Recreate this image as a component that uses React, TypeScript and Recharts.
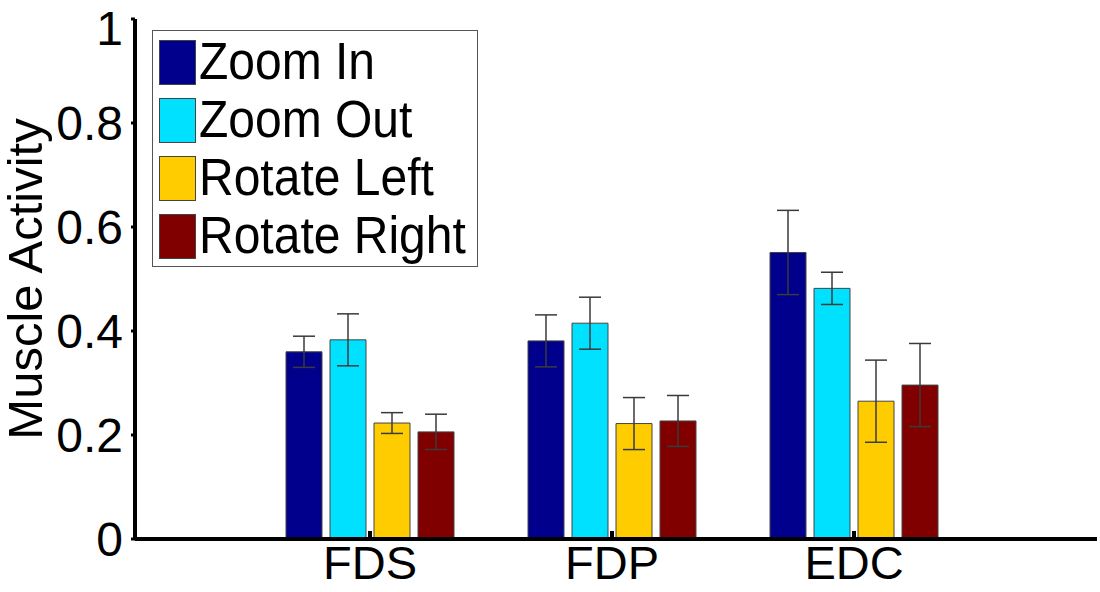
import React from 'react';
import { BarChart, Bar, XAxis, YAxis, ErrorBar, Legend } from 'recharts';

// Muscles on the x axis
const muscles = ['FDS', 'FDP', 'EDC'];

// Mean muscle activity per gesture, with standard-error half widths
const zoomIn = [0.36, 0.381, 0.551];
const zoomInErr = [0.03, 0.05, 0.081];
const zoomOut = [0.383, 0.415, 0.482];
const zoomOutErr = [0.05, 0.05, 0.031];
const rotateLeft = [0.223, 0.222, 0.265];
const rotateLeftErr = [0.02, 0.05, 0.079];
const rotateRight = [0.206, 0.227, 0.296];
const rotateRightErr = [0.034, 0.049, 0.08];

const yTicks = [0, 0.2, 0.4, 0.6, 0.8, 1];

const seriesNames = ['Zoom In', 'Zoom Out', 'Rotate Left', 'Rotate Right'];
const seriesColors = ['#00008c', '#00e1ff', '#ffcc00', '#800000'];

const data = muscles.map((m, i) => ({
  muscle: m,
  zoomIn: zoomIn[i],
  zoomInErr: zoomInErr[i],
  zoomOut: zoomOut[i],
  zoomOutErr: zoomOutErr[i],
  rotateLeft: rotateLeft[i],
  rotateLeftErr: rotateLeftErr[i],
  rotateRight: rotateRight[i],
  rotateRightErr: rotateRightErr[i],
}));

const FONT = '"Liberation Sans", Arial, sans-serif';

const renderLegend = () => (
  <div
    style={{
      border: '1px solid #555',
      background: '#fff',
      width: 326,
      height: 237,
      boxSizing: 'border-box',
      padding: '2px 0 0 6px',
      fontFamily: FONT,
    }}
  >
    {seriesNames.map((name, i) => (
      <div key={name} style={{ display: 'flex', alignItems: 'center', height: 58 }}>
        <div
          style={{
            width: 37,
            height: 45,
            background: seriesColors[i],
            border: '1px solid #444',
            boxSizing: 'border-box',
            marginRight: 3,
            flexShrink: 0,
          }}
        />
        <span
          style={{
            fontSize: 48,
            lineHeight: '48px',
            color: '#000',
            display: 'inline-block',
            transform: 'scaleY(1.08)',
            whiteSpace: 'nowrap',
          }}
        >
          {name}
        </span>
      </div>
    ))}
  </div>
);

const fmtY = (v: number) => (v === 0 ? '0' : v === 1 ? '1' : String(v));

export default function App() {
  const keys = ['zoomIn', 'zoomOut', 'rotateLeft', 'rotateRight'];
  return (
    <div style={{ position: 'absolute', left: 0, top: 0, background: '#fff' }}>
      <BarChart
        width={1100}
        height={592}
        data={data}
        margin={{ top: 19, right: 3, bottom: 0, left: 0 }}
        barCategoryGap={37}
        barGap={8}
      >
        <XAxis
          dataKey="muscle"
          height={53}
          padding={{ left: 114, right: 122 }}
          axisLine={{ stroke: '#000', strokeWidth: 4 }}
          tickLine={{ stroke: '#000', strokeWidth: 4 }}
          tickSize={-8}
          tickMargin={15}
          tick={{ fill: '#000', fontSize: 47, fontFamily: FONT }}
        />
        <YAxis
          width={135}
          domain={[0, 1]}
          ticks={yTicks}
          tickFormatter={fmtY}
          axisLine={{ stroke: '#000', strokeWidth: 4 }}
          tickLine={{ stroke: '#000', strokeWidth: 3 }}
          tickSize={4}
          tickMargin={8}
          tick={{ fill: '#000', fontSize: 48, fontFamily: FONT }}
          label={{
            value: 'Muscle Activity',
            angle: -90,
            position: 'insideLeft',
            offset: 0,
            dx: 25,
            style: { fill: '#000', fontSize: 49, fontFamily: FONT, textAnchor: 'middle' },
          }}
        />
        <Legend
          layout="vertical"
          align="center"
          verticalAlign="middle"
          content={renderLegend}
          wrapperStyle={{ left: 152, top: 30, width: 326, height: 237 }}
        />
        {keys.map((k, i) => (
          <Bar
            key={k}
            dataKey={k}
            name={seriesNames[i]}
            fill={seriesColors[i]}
            stroke="#444"
            strokeWidth={1}
            isAnimationActive={false}
          >
            <ErrorBar dataKey={`${k}Err`} width={11} stroke="#3a3a3a" strokeWidth={1.5} />
          </Bar>
        ))}
      </BarChart>
    </div>
  );
}
